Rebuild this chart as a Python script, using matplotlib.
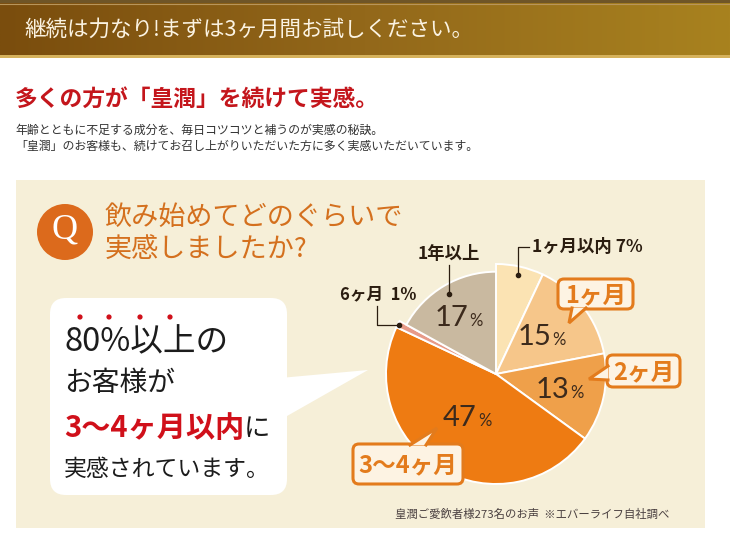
import numpy as np
import matplotlib
matplotlib.use('Agg')
import matplotlib.pyplot as plt
from matplotlib.patches import FancyBboxPatch, Rectangle, Circle, Polygon
from matplotlib.colors import LinearSegmentedColormap

JP = ['Noto Sans CJK JP', 'DejaVu Sans']
NUM = ['Lato', 'DejaVu Sans']

# survey data: how long until customers felt an effect
categories = ['1ヶ月以内', '1ヶ月', '2ヶ月', '3～4ヶ月', '6ヶ月', '1年以上']
shares = [7, 15, 13, 47, 1, 17]
slice_colors = ['#fbe3b3', '#f6c68a', '#efa04a', '#ee7b12', '#e79a88', '#c9b9a0']

banner_text = '継続は力なり!まずは3ヶ月間お試しください。'
heading = '多くの方が「皇潤」を続けて実感。'
intro_lines = ['年齢とともに不足する成分を、毎日コツコツと補うのが実感の秘訣。',
               '「皇潤」のお客様も、続けてお召し上がりいただいた方に多く実感いただいています。']
question = ['飲み始めてどのぐらいで', '実感しましたか?']
footnote = '皇潤ご愛飲者様273名のお声  ※エバーライフ自社調べ'

ORANGE = '#e37b1c'
CX, CY, R = 496, 374, 110


def callout(ax, box, base, tip, text, size):
    x0, y0, x1, y1 = box
    ax.add_patch(FancyBboxPatch((x0, y0), x1 - x0, y1 - y0,
                                boxstyle='round,pad=0,rounding_size=6',
                                fc='#fdf3e3', ec=ORANGE, lw=2.2, zorder=5))
    (ax_, ay_), (bx_, by_) = base
    ax.add_patch(Polygon([(ax_, ay_), tip, (bx_, by_)], closed=True,
                         fc='#fdf3e3', ec='none', zorder=6))
    ax.plot([ax_, tip[0], bx_], [ay_, tip[1], by_], color=ORANGE, lw=2.2,
            solid_joinstyle='miter', zorder=6)
    ax.text((x0 + x1) / 2, (y0 + y1) / 2 + 1, text, color=ORANGE,
            fontsize=size, fontweight='bold', family=JP,
            ha='center', va='center', zorder=7)


def main():
    fig = plt.figure(figsize=(7.3, 5.52), dpi=100)
    ax = fig.add_axes([0, 0, 1, 1])

    # banner
    grad = np.linspace(0, 1, 256).reshape(1, -1)
    cmap = LinearSegmentedColormap.from_list('gold', ['#7a4d0d', '#93681a', '#a8821f'])
    ax.imshow(grad, cmap=cmap, extent=(0, 730, 55, 3), aspect='auto', zorder=1)
    ax.add_patch(Rectangle((0, 0), 730, 3, fc='#6f5527', ec='none', zorder=2))
    ax.plot([0, 730], [3.8, 3.8], color='#b8955a', lw=0.8, zorder=2)
    ax.add_patch(Rectangle((0, 55), 730, 2.5, fc='#d6b25c', ec='none', zorder=2))
    ax.text(24, 30, banner_text, color='#fbf3e2', fontsize=15.5, family=JP,
            ha='left', va='center', zorder=3)

    ax.text(15, 99, heading, color='#c4161c', fontsize=16.4, fontweight='bold',
            family=JP, ha='left', va='center')
    for i, line in enumerate(intro_lines):
        ax.text(15, 130 + 16 * i, line, color='#333333', fontsize=8.6,
                family=JP, ha='left', va='center')

    # cream panel
    ax.add_patch(Rectangle((16, 180), 689, 348, fc='#f6efd8', ec='none', zorder=1))

    ax.add_patch(Circle((65, 232), 28, fc='#dc6a1c', ec='none', zorder=3))
    ax.text(65, 230, 'Q', color='white', fontsize=26, family='Liberation Serif',
            ha='center', va='center', zorder=4)
    ax.text(105, 217, question[0], color='#d4701e', fontsize=19.5, family=JP,
            ha='left', va='center', zorder=3)
    ax.text(105, 250, question[1], color='#d4701e', fontsize=19.5, family=JP,
            ha='left', va='center', zorder=3)

    # speech bubble
    ax.add_patch(FancyBboxPatch((50, 298), 237, 197,
                                boxstyle='round,pad=0,rounding_size=16',
                                fc='white', ec='none', zorder=3))
    ax.add_patch(Polygon([(280, 378), (368, 370), (280, 420)], closed=True,
                         fc='white', ec='none', zorder=3))
    for x in [80, 109, 140, 170]:
        ax.add_patch(Circle((x, 317), 2.6, fc='#d0101a', ec='none', zorder=4))
    ax.text(64, 342, '80%以上の', color='#1c1c1c', fontsize=23.5, family=JP,
            ha='left', va='center', zorder=4)
    ax.text(64, 383, 'お客様が', color='#1c1c1c', fontsize=20, family=JP,
            ha='left', va='center', zorder=4)
    t = ax.text(64, 428, '3～4ヶ月以内', color='#d0101a', fontsize=21,
                fontweight='bold', family=JP, ha='left', va='center', zorder=4)
    ax.annotate('に', xy=(1, 0.5), xycoords=t, xytext=(0, 0),
                textcoords='offset points', color='#1c1c1c', fontsize=19,
                family=JP, ha='left', va='center', zorder=4)
    ax.text(64, 469, '実感されています。', color='#1c1c1c', fontsize=16.5, family=JP,
            ha='left', va='center', zorder=4)

    # pie
    wedges, _ = ax.pie(shares, colors=slice_colors, startangle=-90,
                       counterclock=True, center=(CX, CY), radius=R, frame=True,
                       wedgeprops=dict(edgecolor='white', linewidth=1.4))
    for w in wedges:
        w.set_zorder(4)
    wedges[5].set_radius(R * 0.93)

    def at(i, frac):
        th = np.deg2rad((wedges[i].theta1 + wedges[i].theta2) / 2)
        return CX + frac * R * np.cos(th), CY + frac * R * np.sin(th)

    inner = {1: 0.57, 2: 0.63, 3: 0.45, 5: 0.6}
    for i, frac in inner.items():
        x, y = at(i, frac)
        ax.text(x + 6, y + 9, str(shares[i]), color='#3c2a1c', fontsize=21,
                family=NUM, ha='right', va='baseline', zorder=6)
        ax.text(x + 7, y + 9, '%', color='#3c2a1c', fontsize=12,
                family=NUM, ha='left', va='baseline', zorder=6)

    lab = dict(color='#2b1d10', fontweight='bold', family=JP, zorder=6)
    # 1ヶ月以内
    dx, dy = at(0, 0.92)
    ax.plot([dx, dx, dx + 11], [dy, 247, 247], color='#2b1d10', lw=0.9, zorder=6)
    ax.plot(dx, dy, 'o', ms=3, color='#2b1d10', zorder=7)
    ax.text(dx + 14, 247, f'{categories[0]} {shares[0]}%', fontsize=12.5,
            ha='left', va='center', **lab)
    # 1年以上
    dx, dy = at(5, 0.84)
    ax.plot([dx, dx], [dy, 265], color='#2b1d10', lw=0.9, zorder=6)
    ax.plot(dx, dy, 'o', ms=3, color='#2b1d10', zorder=7)
    ax.text(dx, 254, categories[5], fontsize=12.5, ha='center', va='center', **lab)
    # 6ヶ月
    dx, dy = at(4, 0.99)
    ax.plot([dx, 377, 377], [dy, dy, 306], color='#2b1d10', lw=0.9, zorder=6)
    ax.plot(dx, dy, 'o', ms=3, color='#2b1d10', zorder=7)
    ax.text(378, 294, f'{categories[4]}  {shares[4]}%', fontsize=12,
            ha='center', va='center', **lab)

    callout(ax, (558, 279, 633, 309), ((572, 308), (586, 308)), (569, 323),
            categories[1], 17)
    callout(ax, (607, 355, 680, 387), ((608, 366), (608, 380)), (589, 379),
            categories[2], 17)
    callout(ax, (353, 444, 463, 484), ((410, 445), (426, 445)), (437, 428),
            categories[3], 17)

    ax.text(395, 514, footnote, color='#4a4040', fontsize=8.2, family=JP,
            ha='left', va='center', zorder=3)

    ax.set_aspect('auto')
    ax.set_xlim(0, 730)
    ax.set_ylim(552, 0)
    ax.axis('off')
    fig.savefig('out.png', dpi=100, facecolor='white')


if __name__ == '__main__':
    main()
